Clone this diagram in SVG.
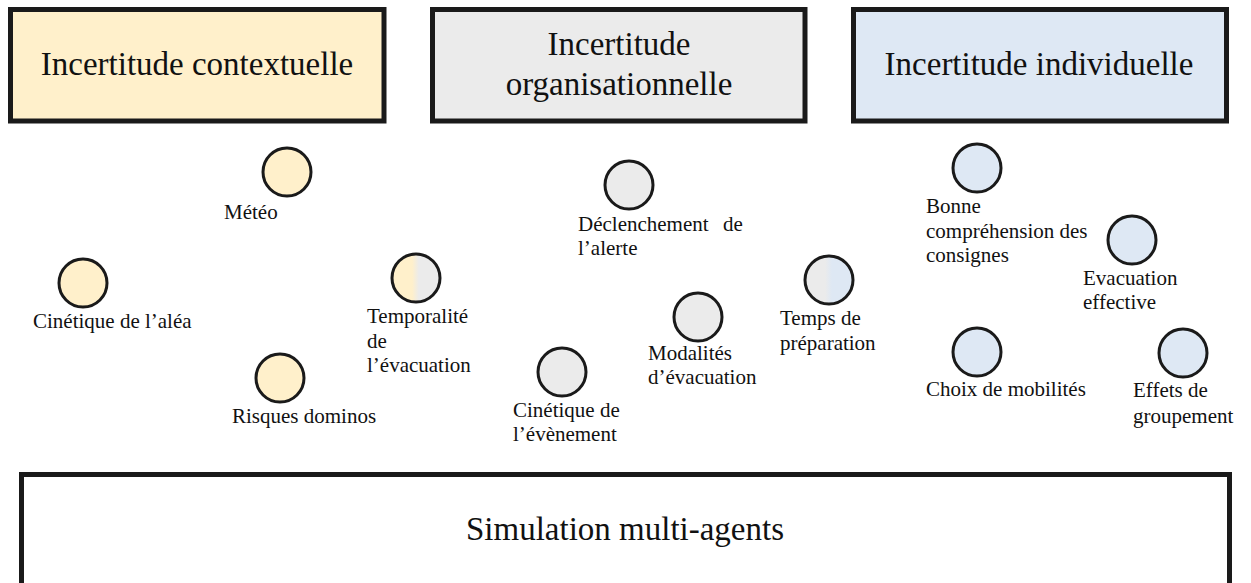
<svg xmlns="http://www.w3.org/2000/svg" width="1251" height="583" viewBox="0 0 1251 583">
  <style>
    .box { stroke: #1a1a1a; stroke-width: 5; }
    .node { stroke: #1a1a1a; stroke-width: 3; }
    .yel { fill: #fff0cb; }
    .gry { fill: #ebebeb; }
    .blu { fill: #dee8f4; }
    .head { font-family: "Liberation Serif", "DejaVu Serif", serif; font-size: 33px; fill: #111; text-anchor: middle; }
    .lbl { font-family: "Liberation Serif", "DejaVu Serif", serif; font-size: 21px; fill: #111; }
  </style>
  <defs>
    <linearGradient id="yg" x1="0" y1="0" x2="1" y2="0">
      <stop offset="0.42" stop-color="#fff0cb"/>
      <stop offset="0.56" stop-color="#ebebeb"/>
    </linearGradient>
    <linearGradient id="gb" x1="0" y1="0" x2="1" y2="0">
      <stop offset="0.42" stop-color="#ebebeb"/>
      <stop offset="0.56" stop-color="#dee8f4"/>
    </linearGradient>
  </defs>
  <rect width="1251" height="583" fill="#ffffff"/>

  <g id="header-contextuelle">
    <rect class="box yel" x="10.5" y="9.5" width="373.5" height="111.5"/>
    <text class="head" x="197" y="75">Incertitude contextuelle</text>
  </g>
  <g id="header-organisationnelle">
    <rect class="box gry" x="432.5" y="9.5" width="372.5" height="111.5"/>
    <text class="head" x="619" y="55">Incertitude</text>
    <text class="head" x="619" y="95">organisationnelle</text>
  </g>
  <g id="header-individuelle">
    <rect class="box blu" x="853.5" y="9.5" width="373" height="111.5"/>
    <text class="head" x="1039" y="75">Incertitude individuelle</text>
  </g>

  <g id="connectors"></g>

  <g id="meteo">
    <circle class="node yel" cx="287" cy="172" r="24"/>
    <text class="lbl" x="224" y="219">Météo</text>
  </g>
  <g id="cinetique-alea">
    <circle class="node yel" cx="83" cy="283" r="24"/>
    <text class="lbl" x="33" y="328">Cinétique de l’aléa</text>
  </g>
  <g id="temporalite">
    <circle class="node" fill="url(#yg)" cx="416" cy="278" r="24"/>
    <text class="lbl" x="367" y="323">Temporalité</text>
    <text class="lbl" x="367" y="348">de</text>
    <text class="lbl" x="367" y="372">l’évacuation</text>
  </g>
  <g id="risques-dominos">
    <circle class="node yel" cx="280" cy="378" r="24"/>
    <text class="lbl" x="232" y="423">Risques dominos</text>
  </g>

  <g id="declenchement">
    <circle class="node gry" cx="629" cy="185" r="24"/>
    <text class="lbl" x="578" y="231">Déclenchement</text>
    <text class="lbl" x="723" y="231">de</text>
    <text class="lbl" x="578" y="255">l’alerte</text>
  </g>
  <g id="modalites">
    <circle class="node gry" cx="698" cy="317" r="24"/>
    <text class="lbl" x="648" y="360">Modalités</text>
    <text class="lbl" x="648" y="384">d’évacuation</text>
  </g>
  <g id="cinetique-evenement">
    <circle class="node gry" cx="562" cy="372" r="24"/>
    <text class="lbl" x="513" y="417">Cinétique de</text>
    <text class="lbl" x="513" y="441">l’évènement</text>
  </g>
  <g id="temps-preparation">
    <circle class="node" fill="url(#gb)" cx="829" cy="280" r="24"/>
    <text class="lbl" x="780" y="325">Temps de</text>
    <text class="lbl" x="780" y="350">préparation</text>
  </g>

  <g id="bonne-comprehension">
    <circle class="node blu" cx="977" cy="168" r="24"/>
    <text class="lbl" x="926" y="213">Bonne</text>
    <text class="lbl" x="926" y="238">compréhension des</text>
    <text class="lbl" x="926" y="262">consignes</text>
  </g>
  <g id="evacuation-effective">
    <circle class="node blu" cx="1132" cy="240" r="24"/>
    <text class="lbl" x="1083" y="285">Evacuation</text>
    <text class="lbl" x="1083" y="309">effective</text>
  </g>
  <g id="choix-mobilites">
    <circle class="node blu" cx="977" cy="352" r="24"/>
    <text class="lbl" x="926" y="396">Choix de mobilités</text>
  </g>
  <g id="effets-groupement">
    <circle class="node blu" cx="1183" cy="353" r="24"/>
    <text class="lbl" x="1133" y="397">Effets de</text>
    <text class="lbl" x="1133" y="423">groupement</text>
  </g>

  <g id="simulation">
    <rect class="box" fill="#ffffff" x="21.5" y="474.5" width="1208" height="140"/>
    <text class="head" x="625" y="540">Simulation multi-agents</text>
  </g>
</svg>
